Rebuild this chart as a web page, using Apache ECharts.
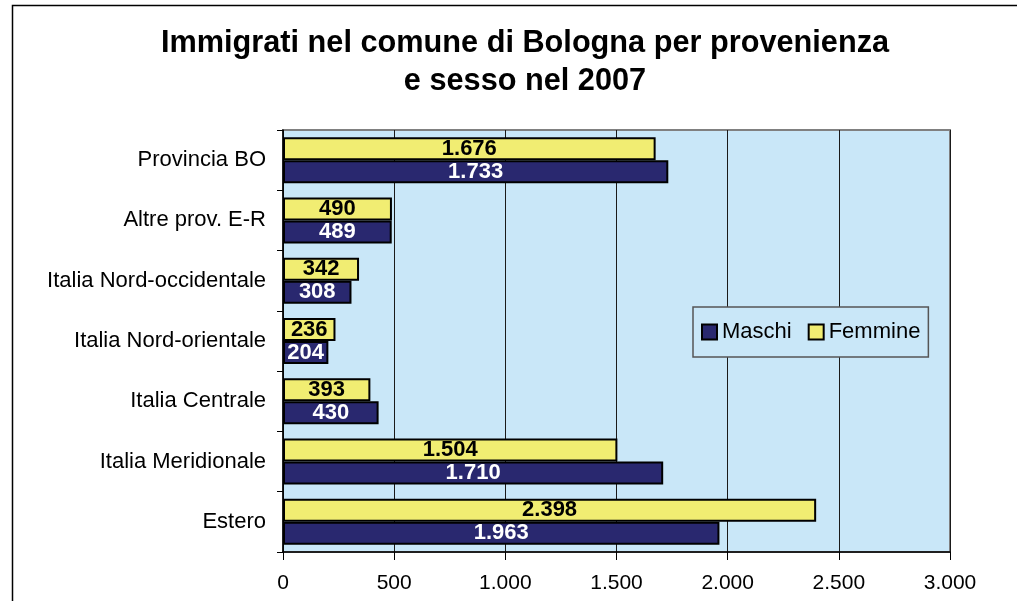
<!DOCTYPE html>
<html>
<head>
<meta charset="utf-8">
<script src="https://cdn.jsdelivr.net/npm/echarts@6/dist/echarts.min.js"></script>
<style>
  html, body { margin: 0; padding: 0; background: #ffffff; }
  #chart { width: 1017px; height: 601px; }
</style>
</head>
<body>
<div id="chart"></div>
<script>
// Immigrants into the municipality of Bologna, 2007, by origin and sex
const categories = [
  'Provincia BO',
  'Altre prov. E-R',
  'Italia Nord-occidentale',
  'Italia Nord-orientale',
  'Italia Centrale',
  'Italia Meridionale',
  'Estero'
];
const maschi = [1733, 489, 308, 204, 430, 1710, 1963];
const femmine = [1676, 490, 342, 236, 393, 1504, 2398];
const xTicks = [0, 500, 1000, 1500, 2000, 2500, 3000];

const FONT = '"Liberation Sans", Arial, sans-serif';
const fmt = v => String(v).replace(/\B(?=(\d{3})+(?!\d))/g, '.');

const chart = echarts.init(document.getElementById('chart'), null, { renderer: 'canvas' });

chart.setOption({
  animation: false,
  backgroundColor: '#ffffff',
  textStyle: { fontFamily: FONT },
  title: {
    text: 'Immigrati nel comune di Bologna per provenienza\ne sesso nel 2007',
    left: 520,
    top: 20,
    textAlign: 'center',
    textStyle: {
      fontFamily: FONT,
      fontSize: 30.7,
      fontWeight: 'bold',
      color: '#000000',
      lineHeight: 38
    }
  },
  graphic: [{
    type: 'rect',
    shape: { x: 12.5, y: 5.5, width: 1030, height: 640 },
    style: { fill: 'none', stroke: '#000000', lineWidth: 1.5 },
    silent: true,
    z: 100
  }],
  legend: {
    data: ['Maschi', 'Femmine'],
    left: 693,
    top: 307,
    padding: [14, 8, 14, 8],
    itemWidth: 15,
    itemHeight: 15,
    itemGap: 16,
    icon: 'rect',
    backgroundColor: '#c9e7f8',
    borderColor: '#555555',
    borderWidth: 1.5,
    borderRadius: 0,
    textStyle: { fontFamily: FONT, fontSize: 22, color: '#000000' },
    itemStyle: { borderColor: '#000000', borderWidth: 2 }
  },
  grid: {
    left: 283,
    right: 67,
    top: 130,
    bottom: 49,
    show: true,
    backgroundColor: '#c9e7f8',
    borderColor: '#808080',
    borderWidth: 2
  },
  xAxis: {
    type: 'value',
    min: xTicks[0],
    max: xTicks[xTicks.length - 1],
    interval: xTicks[1] - xTicks[0],
    axisLine: { show: true, lineStyle: { color: '#000000', width: 1.5 } },
    axisTick: { show: true, length: 8, lineStyle: { color: '#000000', width: 1 } },
    axisLabel: {
      formatter: v => fmt(v),
      fontFamily: FONT,
      fontSize: 21,
      color: '#000000',
      margin: 21
    },
    splitLine: { show: true, lineStyle: { color: '#1a1a1a', width: 1 } }
  },
  yAxis: {
    type: 'category',
    data: categories,
    inverse: true,
    axisLine: { show: true, lineStyle: { color: '#000000', width: 1.5 } },
    axisTick: { show: true, length: 6, lineStyle: { color: '#000000', width: 1 } },
    axisLabel: {
      fontFamily: FONT,
      fontSize: 22,
      color: '#000000',
      margin: 17
    }
  },
  series: [
    {
      name: 'Femmine',
      type: 'bar',
      data: femmine,
      barWidth: 23,
      barGap: '0%',
      itemStyle: { color: '#f1ed72', borderColor: '#000000', borderWidth: 2 },
      label: {
        show: true,
        position: 'inside',
        formatter: p => fmt(p.value),
        fontFamily: FONT,
        fontSize: 22,
        fontWeight: 'bold',
        color: '#000000'
      }
    },
    {
      name: 'Maschi',
      type: 'bar',
      data: maschi,
      barWidth: 23,
      barGap: '0%',
      itemStyle: { color: '#29286f', borderColor: '#000000', borderWidth: 2 },
      label: {
        show: true,
        position: 'inside',
        formatter: p => fmt(p.value),
        fontFamily: FONT,
        fontSize: 22,
        fontWeight: 'bold',
        color: '#ffffff'
      }
    }
  ]
});
</script>
</body>
</html>
